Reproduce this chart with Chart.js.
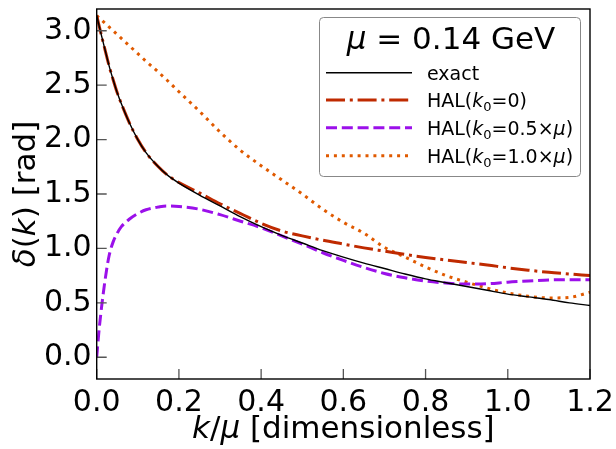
<!DOCTYPE html>
<html>
<head>
<meta charset="utf-8">
<script src="https://cdn.jsdelivr.net/npm/chart.js@4.4.1/dist/chart.umd.min.js"></script>
<style>
  html, body { margin: 0; padding: 0; background: #fff; }
</style>
</head>
<body>
<canvas id="phase" width="616" height="449"></canvas>
<script>
// k/mu grid (denser near 0 where the curves are steep)
const kOverMu = [0, 0.005, 0.01, 0.02, 0.03, 0.04, 0.05, 0.06, 0.08, 0.10, 0.12, 0.15, 0.17, 0.20,
  0.25, 0.30, 0.35, 0.40, 0.45, 0.50, 0.55, 0.60, 0.65, 0.70, 0.75, 0.80, 0.85, 0.90, 0.95,
  1.00, 1.05, 1.10, 1.15, 1.20];

const deltaExact = [3.14, 3.06, 2.98, 2.83, 2.68, 2.55, 2.43, 2.33, 2.15, 2.00, 1.88, 1.75, 1.68, 1.60,
  1.49, 1.39, 1.29, 1.20, 1.12, 1.05, 0.98, 0.92, 0.865, 0.815, 0.765, 0.72, 0.685, 0.65, 0.615,
  0.58, 0.555, 0.53, 0.50, 0.475];

const deltaHal0 = [3.14, 3.06, 2.98, 2.83, 2.68, 2.55, 2.43, 2.33, 2.15, 2.00, 1.88, 1.75, 1.68, 1.605,
  1.51, 1.41, 1.32, 1.23, 1.16, 1.115, 1.075, 1.04, 1.005, 0.975, 0.945, 0.917, 0.893, 0.87, 0.848,
  0.822, 0.80, 0.78, 0.765, 0.75];

const deltaHal05 = [0, 0.22, 0.40, 0.70, 0.93, 1.06, 1.14, 1.20, 1.27, 1.32, 1.355, 1.38, 1.39, 1.385,
  1.36, 1.31, 1.25, 1.19, 1.115, 1.04, 0.96, 0.89, 0.825, 0.77, 0.73, 0.70, 0.682, 0.672, 0.675,
  0.69, 0.70, 0.71, 0.713, 0.713];

const deltaHal10 = [3.14, 3.12, 3.105, 3.07, 3.035, 3.00, 2.965, 2.93, 2.86, 2.79, 2.72, 2.62, 2.55, 2.44,
  2.26, 2.07, 1.90, 1.76, 1.63, 1.50, 1.36, 1.24, 1.14, 1.01, 0.92, 0.83, 0.75, 0.69, 0.635,
  0.59, 0.56, 0.545, 0.55, 0.597];

const seriesNames = ['exact', 'HAL(k0=0)', 'HAL(k0=0.5×μ)', 'HAL(k0=1.0×μ)'];
const seriesColors = ['#000000', '#bf2a00', '#9b10ea', '#e05a00'];
const seriesWidths = [1.4, 3, 3, 3];
const seriesDashes = [[], [19, 4.8, 3, 4.8], [11, 4.8], [3, 4.9]];

const xTicks = [0, 0.2, 0.4, 0.6, 0.8, 1.0, 1.2];
const yTicks = [0, 0.5, 1.0, 1.5, 2.0, 2.5, 3.0];
const legendTitle = 'μ = 0.14 GeV';
const xTitle = 'k/μ [dimensionless]';
const yTitle = 'δ(k) [rad]';

const FONT = '"DejaVu Sans", sans-serif';

const toPoints = ys => kOverMu.map((k, i) => ({ x: k, y: ys[i] }));

// split text into upright / italic / subscript pieces, mathtext style
function richParts(text, size) {
  const parts = [];
  text.split(/(k0|k|μ|δ)/).forEach(tok => {
    if (!tok) return;
    if (tok === 'k0') {
      parts.push({ t: 'k', font: `italic ${size}px ${FONT}`, dy: 0 });
      parts.push({ t: '0', font: `${Math.round(size * 0.7)}px ${FONT}`, dy: size * 0.2 });
    } else if (tok === 'k' || tok === 'μ' || tok === 'δ') {
      parts.push({ t: tok, font: `italic ${size}px ${FONT}`, dy: 0 });
    } else {
      parts.push({ t: tok, font: `${size}px ${FONT}`, dy: 0 });
    }
  });
  return parts;
}

function drawRich(ctx, text, size, x, y, align) {
  const parts = richParts(text, size);
  let total = 0;
  parts.forEach(p => { ctx.font = p.font; p.w = ctx.measureText(p.t).width; total += p.w; });
  let cx = align === 'center' ? x - total / 2 : x;
  ctx.textAlign = 'left';
  ctx.textBaseline = 'alphabetic';
  parts.forEach(p => {
    ctx.font = p.font;
    ctx.fillText(p.t, cx, y + p.dy);
    cx += p.w;
  });
}

const matplotlibLook = {
  id: 'matplotlibLook',
  afterDraw(chart) {
    const { ctx, chartArea: a, scales: { x, y } } = chart;
    ctx.save();

    // inward ticks
    ctx.strokeStyle = '#555';
    ctx.lineWidth = 1.3;
    ctx.beginPath();
    xTicks.forEach(v => {
      const px = x.getPixelForValue(v);
      ctx.moveTo(px, a.bottom);
      ctx.lineTo(px, a.bottom - 10);
    });
    yTicks.forEach(v => {
      const py = y.getPixelForValue(v);
      ctx.moveTo(a.left, py);
      ctx.lineTo(a.left + 10, py);
    });
    ctx.stroke();

    // spines
    ctx.strokeStyle = '#000';
    ctx.lineWidth = 1.4;
    ctx.strokeRect(a.left, a.top, a.right - a.left, a.bottom - a.top);

    // axis titles
    ctx.fillStyle = '#000';
    drawRich(ctx, xTitle, 31, (a.left + a.right) / 2, 438, 'center');
    ctx.save();
    ctx.translate(35, (a.top + a.bottom) / 2);
    ctx.rotate(-Math.PI / 2);
    drawRich(ctx, yTitle, 31, 0, 0, 'center');
    ctx.restore();

    // legend box
    ctx.beginPath();
    ctx.roundRect(319.5, 17.5, 261, 159, 4);
    ctx.fillStyle = 'rgba(255,255,255,0.8)';
    ctx.fill();
    ctx.strokeStyle = '#888';
    ctx.lineWidth = 1;
    ctx.stroke();

    ctx.fillStyle = '#000';
    drawRich(ctx, legendTitle, 31, 451, 49, 'center');

    const rows = [72.7, 100, 127.7, 155.7];
    chart.data.datasets.forEach((ds, i) => {
      const ry = rows[i];
      ctx.beginPath();
      ctx.setLineDash(ds.borderDash);
      ctx.lineCap = 'butt';
      ctx.strokeStyle = ds.borderColor;
      ctx.lineWidth = ds.borderWidth;
      ctx.moveTo(326, ry);
      ctx.lineTo(412, ry);
      ctx.stroke();
      ctx.setLineDash([]);
      ctx.fillStyle = '#000';
      drawRich(ctx, ds.label, 19, 427, ry + 7, 'left');
    });

    ctx.restore();
  }
};

new Chart(document.getElementById('phase'), {
  type: 'line',
  data: {
    datasets: [deltaExact, deltaHal0, deltaHal05, deltaHal10].map((ys, i) => ({
      label: seriesNames[i],
      data: toPoints(ys),
      borderColor: seriesColors[i],
      borderWidth: seriesWidths[i],
      borderDash: seriesDashes[i],
      borderCapStyle: 'butt',
      pointRadius: 0,
      fill: false,
      cubicInterpolationMode: 'monotone',
    })),
  },
  options: {
    responsive: false,
    animation: false,
    layout: { padding: { top: 9, right: 26, left: 0, bottom: 0 } },
    plugins: { legend: { display: false }, tooltip: { enabled: false } },
    scales: {
      x: {
        type: 'linear',
        min: 0,
        max: 1.2,
        afterBuildTicks: s => { s.ticks = xTicks.map(v => ({ value: v })); },
        afterFit: s => { s.height = 70; s.paddingLeft = 0; s.paddingRight = 0; },
        grid: { display: false, drawTicks: false },
        border: { display: false },
        ticks: {
          font: { family: FONT, size: 30 },
          color: '#000',
          padding: 6,
          maxRotation: 0,
          autoSkip: false,
          callback: v => v.toFixed(1),
        },
      },
      y: {
        type: 'linear',
        min: -0.2,
        max: 3.2,
        afterBuildTicks: s => { s.ticks = yTicks.map(v => ({ value: v })); },
        afterFit: s => { s.width = 96.7; s.paddingTop = 0; s.paddingBottom = 0; },
        grid: { display: false, drawTicks: false },
        border: { display: false },
        ticks: {
          font: { family: FONT, size: 30 },
          color: '#000',
          padding: 5,
          autoSkip: false,
          callback: v => v.toFixed(1),
        },
      },
    },
  },
  plugins: [matplotlibLook],
});
</script>
</body>
</html>
